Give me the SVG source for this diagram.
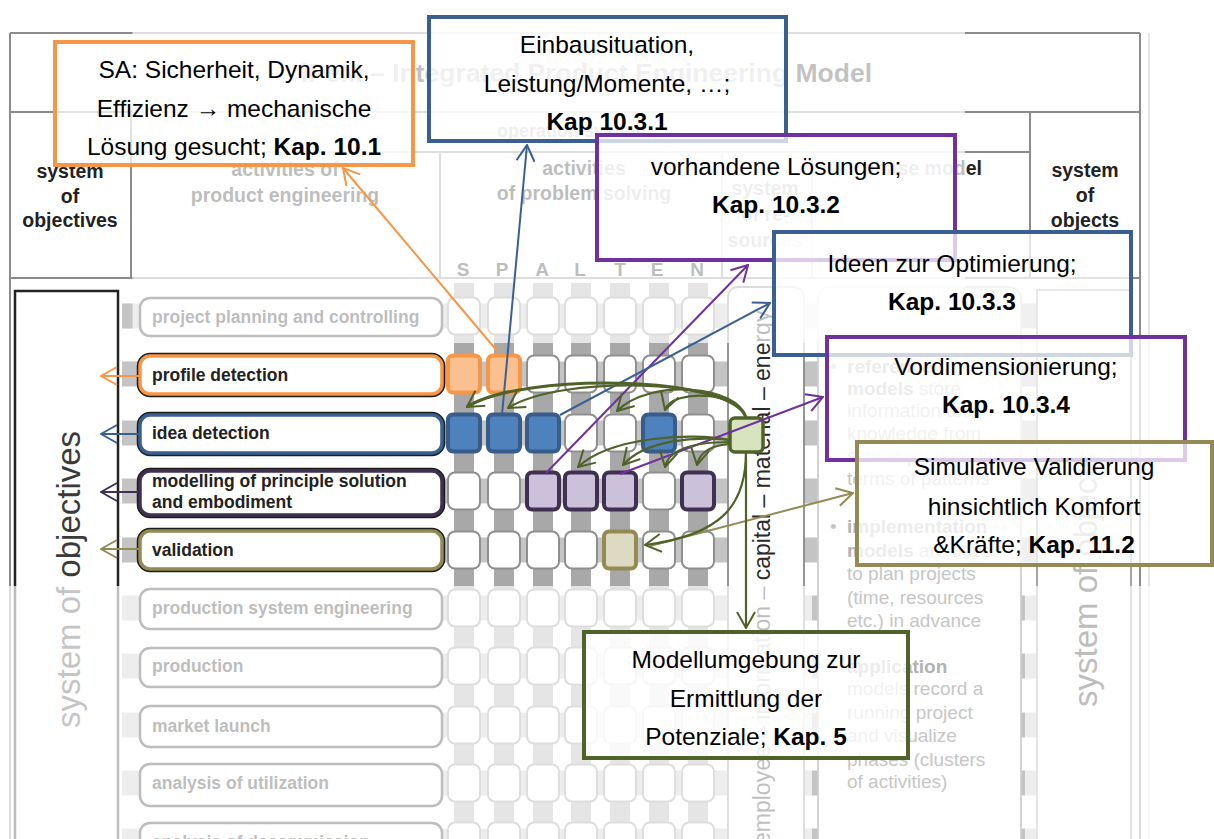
<svg xmlns="http://www.w3.org/2000/svg" width="1214" height="839" viewBox="0 0 1214 839">
<style>
  .hdr{font-family:"Liberation Sans",Arial,sans-serif;font-weight:bold;font-size:19.5px;fill:#222;text-anchor:middle}
  .frm{stroke:#8c8c8c;stroke-width:2;fill:none}
  .band{fill:#c4c4c4}
  .bar{fill:#a8a8a8}
  .cell{fill:#fff;stroke:#8f8f8f;stroke-width:2}
  .act{fill:#fff;stroke:#222;stroke-width:2.5}
  .acth{fill:#fff;stroke-width:3.5}
  .actsh{fill:none;stroke:#1e1e1e;stroke-width:6.5}
  .actx{font-family:"Liberation Sans",Arial,sans-serif;font-weight:bold;font-size:17.5px;fill:#222}
  .ph{font-family:"Liberation Sans",Arial,sans-serif;font-size:19px;fill:#c6c6c6}
  .ph .b{font-weight:bold;fill:#b2b2b2}
  .fade{fill:#fff;fill-opacity:0.7}
  .note rect{fill:#fff;fill-opacity:0.75;stroke-width:4}
  .note text{font-family:"Liberation Sans",Arial,sans-serif;font-size:24.5px;fill:#000;text-anchor:middle}
  .b{font-weight:bold}
  .cn{fill:none;stroke-width:2}
  .gr{fill:none;stroke:#4f6228;stroke-width:2.2}
</style>
<defs>
  <rect id="cell" class="cell" width="32" height="37" rx="7"/>
  <marker id="ah-or" viewBox="0 0 18 20" refX="17" refY="10" markerWidth="18" markerHeight="20" markerUnits="userSpaceOnUse" orient="auto"><path d="M1,1 L17,10 L1,19" fill="none" stroke="#f79646" stroke-width="2"/></marker>
  <marker id="ah-bl" viewBox="0 0 18 20" refX="17" refY="10" markerWidth="18" markerHeight="20" markerUnits="userSpaceOnUse" orient="auto"><path d="M1,1 L17,10 L1,19" fill="none" stroke="#3a6092" stroke-width="2"/></marker>
  <marker id="ah-pu" viewBox="0 0 18 20" refX="17" refY="10" markerWidth="18" markerHeight="20" markerUnits="userSpaceOnUse" orient="auto"><path d="M1,1 L17,10 L1,19" fill="none" stroke="#7030a0" stroke-width="2"/></marker>
  <marker id="ah-dp" viewBox="0 0 18 20" refX="17" refY="10" markerWidth="18" markerHeight="20" markerUnits="userSpaceOnUse" orient="auto"><path d="M1,1 L17,10 L1,19" fill="none" stroke="#403152" stroke-width="2"/></marker>
  <marker id="ah-ol" viewBox="0 0 18 20" refX="17" refY="10" markerWidth="18" markerHeight="20" markerUnits="userSpaceOnUse" orient="auto"><path d="M1,1 L17,10 L1,19" fill="none" stroke="#948a54" stroke-width="2"/></marker>
  <marker id="ah-gr" viewBox="0 0 18 20" refX="17" refY="10" markerWidth="18" markerHeight="20" markerUnits="userSpaceOnUse" orient="auto"><path d="M1,1 L17,10 L1,19" fill="none" stroke="#4f6228" stroke-width="2"/></marker>
</defs>

<rect width="1214" height="839" fill="#fff"/>

<!-- iPeM frame and header -->
<g id="model-header">
  <path class="frm" d="M10,33 H1140 M10,112 H1140 M10,278 H1140 M10,33 V839 M131,112 V278 M131,152 H1030 M440,152 V278 M722,152 V278 M812,152 V278 M1030,112 V278 M1140,33 V839"/>
  <path d="M1149,33 V839" stroke="#dcdcdc" stroke-width="1.5"/>
  <text x="872" y="82" font-family="Liberation Sans, Arial, sans-serif" font-weight="bold" font-size="26.5" fill="#333" text-anchor="end">iPeM – Integrated Product Engineering Model</text>
  <text class="hdr"><tspan x="70" y="178">system</tspan><tspan x="70" y="203">of</tspan><tspan x="70" y="227">objectives</tspan></text>
  <text class="hdr"><tspan x="285" y="176">activities of</tspan><tspan x="285" y="202">product engineering</tspan></text>
  <text class="hdr" x="497" y="137" style="text-anchor:start;font-size:18px">operation system</text>
  <text class="hdr"><tspan x="584" y="175">activities</tspan><tspan x="584" y="200">of problem solving</tspan></text>
  <text class="hdr"><tspan x="765" y="195">system</tspan><tspan x="765" y="221">of re-</tspan><tspan x="765" y="247">sources</tspan></text>
  <text class="hdr" x="982" y="175" style="text-anchor:end">phase model</text>
  <text class="hdr"><tspan x="1085" y="177">system</tspan><tspan x="1085" y="202">of</tspan><tspan x="1085" y="227">objects</tspan></text>
  <text class="hdr" y="276" style="font-size:19px"><tspan x="463">S</tspan><tspan x="502">P</tspan><tspan x="542">A</tspan><tspan x="580">L</tspan><tspan x="620">T</tspan><tspan x="657">E</tspan><tspan x="697">N</tspan></text>
</g>

<!-- row bands and column bars behind the activity matrix -->
<g id="matrix-stripes">
  <rect class="band" x="122" y="303.5" width="918" height="25"/>
  <rect class="band" x="122" y="361.5" width="918" height="25"/>
  <rect class="band" x="122" y="420.5" width="918" height="25"/>
  <rect class="band" x="122" y="478.5" width="918" height="25"/>
  <rect class="band" x="122" y="537.5" width="918" height="25"/>
  <rect class="band" x="122" y="595.5" width="918" height="25"/>
  <rect class="band" x="122" y="653.5" width="918" height="25"/>
  <rect class="band" x="122" y="712.5" width="918" height="25"/>
  <rect class="band" x="122" y="770.5" width="918" height="25"/>
  <rect class="band" x="122" y="828.5" width="918" height="25"/>
  <rect class="bar" x="454" y="283" width="20" height="560"/>
  <rect class="bar" x="494" y="283" width="20" height="560"/>
  <rect class="bar" x="533" y="283" width="20" height="560"/>
  <rect class="bar" x="571" y="283" width="20" height="560"/>
  <rect class="bar" x="610" y="283" width="20" height="560"/>
  <rect class="bar" x="649" y="283" width="20" height="560"/>
  <rect class="bar" x="688" y="283" width="20" height="560"/>
</g>

<!-- system of objectives column -->
<g id="objectives-column">
  <rect x="15" y="291" width="103" height="560" fill="none" stroke="#222" stroke-width="2.5"/>
  <text transform="translate(80,728) rotate(-90)" font-family="Liberation Sans, Arial, sans-serif" font-size="33" fill="#3a3a3a">system of objectives</text>
</g>

<!-- system of resources column -->
<g id="resources-column">
  <rect x="728" y="287" width="76" height="570" rx="10" fill="#fff" stroke="#8a8a8a" stroke-width="1.8"/>
  <text transform="translate(770,845) rotate(-90)" font-family="Liberation Sans, Arial, sans-serif" font-size="23" fill="#2a2a2a">employee – information – capital – material – energy</text>
  <rect id="resource-cell" x="730" y="418" width="33" height="34" rx="5" fill="#d7e4bd" stroke="#4f6228" stroke-width="3.5"/>
</g>

<!-- phase model column -->
<g id="phase-model">
  <rect x="818" y="287" width="203" height="570" rx="12" fill="#fff" stroke="#cfcfcf" stroke-width="1.8"/>
  <text class="ph">
    <tspan x="830" y="373">•</tspan><tspan x="847" y="373" class="b">reference</tspan>
    <tspan x="847" y="395"><tspan class="b">models</tspan> store</tspan>
    <tspan x="847" y="417">information and</tspan>
    <tspan x="847" y="440">knowledge from</tspan>
    <tspan x="847" y="462">similar projects in</tspan>
    <tspan x="847" y="485">terms of patterns</tspan>
    <tspan x="830" y="533">•</tspan><tspan x="847" y="533" class="b">implementation</tspan>
    <tspan x="847" y="557"><tspan class="b">models</tspan> are used</tspan>
    <tspan x="847" y="580">to plan projects</tspan>
    <tspan x="847" y="604">(time, resources</tspan>
    <tspan x="847" y="627">etc.) in advance</tspan>
    <tspan x="830" y="673">•</tspan><tspan x="847" y="673" class="b">application</tspan>
    <tspan x="847" y="695">models record a</tspan>
    <tspan x="847" y="719">running project</tspan>
    <tspan x="847" y="742">and visualize</tspan>
    <tspan x="847" y="766">phases (clusters</tspan>
    <tspan x="847" y="788">of activities)</tspan>
  </text>
</g>

<!-- system of objects column -->
<g id="objects-column">
  <rect x="1037" y="290" width="94" height="570" fill="#fff" stroke="#999" stroke-width="1.8"/>
</g>

<!-- activities of product engineering -->
<g id="act-project-planning">
  <rect class="act" x="140" y="298" width="302" height="38" rx="10"/>
  <text class="actx" x="152" y="323">project planning and controlling</text>
</g>
<g id="act-profile-detection">
  <rect class="actsh" x="140" y="356" width="302" height="38" rx="10"/>
  <rect class="acth" x="140" y="356" width="302" height="38" rx="10" style="stroke:#f79646"/>
  <text class="actx" x="152" y="381">profile detection</text>
</g>
<g id="act-idea-detection">
  <rect class="actsh" x="140" y="415" width="302" height="38" rx="10"/>
  <rect class="acth" x="140" y="415" width="302" height="38" rx="10" style="stroke:#3a6092"/>
  <text class="actx" x="152" y="439">idea detection</text>
</g>
<g id="act-modelling">
  <rect class="actsh" x="140" y="471" width="302" height="44" rx="10"/>
  <rect class="acth" x="140" y="471" width="302" height="44" rx="10" style="stroke:#403152"/>
  <text class="actx"><tspan x="152" y="487">modelling of principle solution</tspan><tspan x="152" y="508">and embodiment</tspan></text>
</g>
<g id="act-validation">
  <rect class="actsh" x="140" y="531" width="302" height="38" rx="10"/>
  <rect class="acth" x="140" y="531" width="302" height="38" rx="10" style="stroke:#948a54"/>
  <text class="actx" x="152" y="556">validation</text>
</g>
<g id="act-production-system">
  <rect class="act" x="140" y="589" width="302" height="40" rx="10"/>
  <text class="actx" x="152" y="614">production system engineering</text>
</g>
<g id="act-production">
  <rect class="act" x="140" y="648" width="302" height="39" rx="10"/>
  <text class="actx" x="152" y="672">production</text>
</g>
<g id="act-market-launch">
  <rect class="act" x="140" y="706" width="302" height="41" rx="10"/>
  <text class="actx" x="152" y="732">market launch</text>
</g>
<g id="act-utilization">
  <rect class="act" x="140" y="764" width="302" height="42" rx="10"/>
  <text class="actx" x="152" y="789">analysis of utilization</text>
</g>
<g id="act-decommission">
  <rect class="act" x="140" y="823" width="302" height="40" rx="10"/>
  <text class="actx" x="152" y="848">analysis of decommission</text>
</g>

<!-- SPALTEN matrix cells -->
<g id="matrix-cells">
  <use href="#cell" x="448" y="297.5"/><use href="#cell" x="488" y="297.5"/><use href="#cell" x="527" y="297.5"/><use href="#cell" x="565" y="297.5"/><use href="#cell" x="604" y="297.5"/><use href="#cell" x="643" y="297.5"/><use href="#cell" x="682" y="297.5"/>
  <use href="#cell" x="527" y="355.5"/><use href="#cell" x="565" y="355.5"/><use href="#cell" x="604" y="355.5"/><use href="#cell" x="643" y="355.5"/><use href="#cell" x="682" y="355.5"/>
  <use href="#cell" x="565" y="414.5"/><use href="#cell" x="604" y="414.5"/><use href="#cell" x="682" y="414.5"/>
  <use href="#cell" x="448" y="472.5"/><use href="#cell" x="488" y="472.5"/><use href="#cell" x="643" y="472.5"/>
  <use href="#cell" x="448" y="531.5"/><use href="#cell" x="488" y="531.5"/><use href="#cell" x="527" y="531.5"/><use href="#cell" x="565" y="531.5"/><use href="#cell" x="643" y="531.5"/><use href="#cell" x="682" y="531.5"/>
  <use href="#cell" x="448" y="589.5"/><use href="#cell" x="488" y="589.5"/><use href="#cell" x="527" y="589.5"/><use href="#cell" x="565" y="589.5"/><use href="#cell" x="604" y="589.5"/><use href="#cell" x="643" y="589.5"/><use href="#cell" x="682" y="589.5"/>
  <use href="#cell" x="448" y="647.5"/><use href="#cell" x="488" y="647.5"/><use href="#cell" x="527" y="647.5"/><use href="#cell" x="565" y="647.5"/><use href="#cell" x="604" y="647.5"/><use href="#cell" x="643" y="647.5"/><use href="#cell" x="682" y="647.5"/>
  <use href="#cell" x="448" y="706.5"/><use href="#cell" x="488" y="706.5"/><use href="#cell" x="527" y="706.5"/><use href="#cell" x="565" y="706.5"/><use href="#cell" x="604" y="706.5"/><use href="#cell" x="643" y="706.5"/><use href="#cell" x="682" y="706.5"/>
  <use href="#cell" x="448" y="764.5"/><use href="#cell" x="488" y="764.5"/><use href="#cell" x="527" y="764.5"/><use href="#cell" x="565" y="764.5"/><use href="#cell" x="604" y="764.5"/><use href="#cell" x="643" y="764.5"/><use href="#cell" x="682" y="764.5"/>
  <use href="#cell" x="448" y="822.5"/><use href="#cell" x="488" y="822.5"/><use href="#cell" x="527" y="822.5"/><use href="#cell" x="565" y="822.5"/><use href="#cell" x="604" y="822.5"/><use href="#cell" x="643" y="822.5"/><use href="#cell" x="682" y="822.5"/>
  <!-- highlighted steps -->
  <g fill="#fac090" stroke="#f79646" stroke-width="4">
    <rect x="448" y="355.5" width="32" height="37" rx="5"/><rect x="488" y="355.5" width="32" height="37" rx="5"/>
  </g>
  <g fill="#4f81bd" stroke="#385d8a" stroke-width="4">
    <rect x="448" y="414.5" width="32" height="37" rx="5"/><rect x="488" y="414.5" width="32" height="37" rx="5"/><rect x="527" y="414.5" width="32" height="37" rx="5"/><rect x="643" y="414.5" width="32" height="37" rx="5"/>
  </g>
  <g fill="#ccc1da" stroke="#403152" stroke-width="4">
    <rect x="527" y="472.5" width="32" height="37" rx="5"/><rect x="565" y="472.5" width="32" height="37" rx="5"/><rect x="604" y="472.5" width="32" height="37" rx="5"/><rect x="682" y="472.5" width="32" height="37" rx="5"/>
  </g>
  <rect x="604" y="531.5" width="32" height="37" rx="5" fill="#ddd9c3" stroke="#948a54" stroke-width="4"/>
</g>

<!-- faded parts of the model -->
<g id="fade">
  <rect class="fade" x="132.5" y="22" width="832.5" height="321"/>
  <rect class="fade" x="0" y="586" width="812" height="253"/>
  <rect class="fade" x="1025" y="586" width="189" height="253"/>
</g>
<text id="objects-label" transform="translate(1097,707) rotate(-90)" font-family="Liberation Sans, Arial, sans-serif" font-size="33" fill="#bdbdbd">system of objects</text>

<!-- connectors -->
<g id="connectors">
  <path class="cn" stroke="#f79646" d="M140,376 H101" marker-end="url(#ah-or)"/>
  <path class="cn" stroke="#3a6092" d="M140,434 H101" marker-end="url(#ah-bl)"/>
  <path class="cn" stroke="#403152" d="M140,492 H101" marker-end="url(#ah-dp)"/>
  <path class="cn" stroke="#948a54" d="M140,549 H101" marker-end="url(#ah-ol)"/>
  <path class="cn" stroke="#f79646" d="M498,352 L343,168" marker-end="url(#ah-or)"/>
  <path class="cn" stroke="#3a6092" d="M502,415 L527,145" marker-end="url(#ah-bl)"/>
  <path class="cn" stroke="#7030a0" d="M546,473 L748,265" marker-end="url(#ah-pu)"/>
  <path class="cn" stroke="#3a6092" d="M560,415 L770,303" marker-end="url(#ah-bl)"/>
  <path class="cn" stroke="#7030a0" d="M620,474 L823,397" marker-end="url(#ah-pu)"/>
  <path class="cn" stroke="#948a54" d="M650,546 L853,493" marker-end="url(#ah-ol)"/>
  <path class="gr" style="stroke-width:3" d="M746,418 C735,375 520,372 467,407" marker-end="url(#ah-gr)"/>
  <path class="gr" d="M746,418 C735,378 560,375 508,408" marker-end="url(#ah-gr)"/>
  <path class="gr" d="M746,418 C738,385 650,378 617,411" marker-end="url(#ah-gr)"/>
  <path class="gr" d="M746,418 C742,392 672,388 665,410" marker-end="url(#ah-gr)"/>
  <path class="gr" d="M730,440 C690,432 610,437 578,467" marker-end="url(#ah-gr)"/>
  <path class="gr" d="M730,440 C695,436 645,440 623,465" marker-end="url(#ah-gr)"/>
  <path class="gr" d="M730,442 C705,442 670,445 665,467" marker-end="url(#ah-gr)"/>
  <path class="gr" d="M730,444 C715,445 700,450 697,465" marker-end="url(#ah-gr)"/>
  <path class="gr" d="M746,452 C746,505 722,535 645,545" marker-end="url(#ah-gr)"/>
  <path class="gr" d="M746,452 V628" marker-end="url(#ah-gr)"/>
</g>

<!-- chapter notes -->
<g id="note-requirements" class="note">
  <rect x="55" y="42" width="358" height="123" stroke="#f79646"/>
  <text x="234" y="78">SA: Sicherheit, Dynamik,</text>
  <text x="234" y="117">Effizienz → mechanische</text>
  <text x="234" y="155">Lösung gesucht; <tspan class="b">Kap. 10.1</tspan></text>
</g>
<g id="note-installation" class="note">
  <rect x="429" y="17" width="357" height="124" stroke="#3a6092"/>
  <text x="607" y="53">Einbausituation,</text>
  <text x="607" y="92">Leistung/Momente, …;</text>
  <text x="607" y="130" class="b">Kap 10.3.1</text>
</g>
<g id="note-existing-solutions" class="note">
  <rect x="597" y="135" width="358" height="125" stroke="#7030a0"/>
  <text x="776" y="175">vorhandene Lösungen;</text>
  <text x="776" y="213" class="b">Kap. 10.3.2</text>
</g>
<g id="note-optimisation" class="note">
  <rect x="774" y="232" width="357" height="123" stroke="#3a6092"/>
  <text x="952" y="272">Ideen zur Optimierung;</text>
  <text x="952" y="310" class="b">Kap. 10.3.3</text>
</g>
<g id="note-sizing" class="note">
  <rect x="827" y="337" width="358" height="123" stroke="#7030a0"/>
  <text x="1006" y="375">Vordimensionierung;</text>
  <text x="1006" y="413" class="b">Kap. 10.3.4</text>
</g>
<g id="note-simulation" class="note">
  <rect x="857" y="442" width="355" height="123" stroke="#948a54"/>
  <text x="1034" y="475">Simulative Validierung</text>
  <text x="1034" y="515">hinsichtlich Komfort</text>
  <text x="1034" y="553">&amp;Kräfte; <tspan class="b">Kap. 11.2</tspan></text>
</g>
<g id="note-model-environment" class="note">
  <rect x="584" y="632" width="324" height="126" stroke="#4f6228"/>
  <text x="746" y="668">Modellumgebung zur</text>
  <text x="746" y="707">Ermittlung der</text>
  <text x="746" y="745">Potenziale; <tspan class="b">Kap. 5</tspan></text>
</g>
</svg>
